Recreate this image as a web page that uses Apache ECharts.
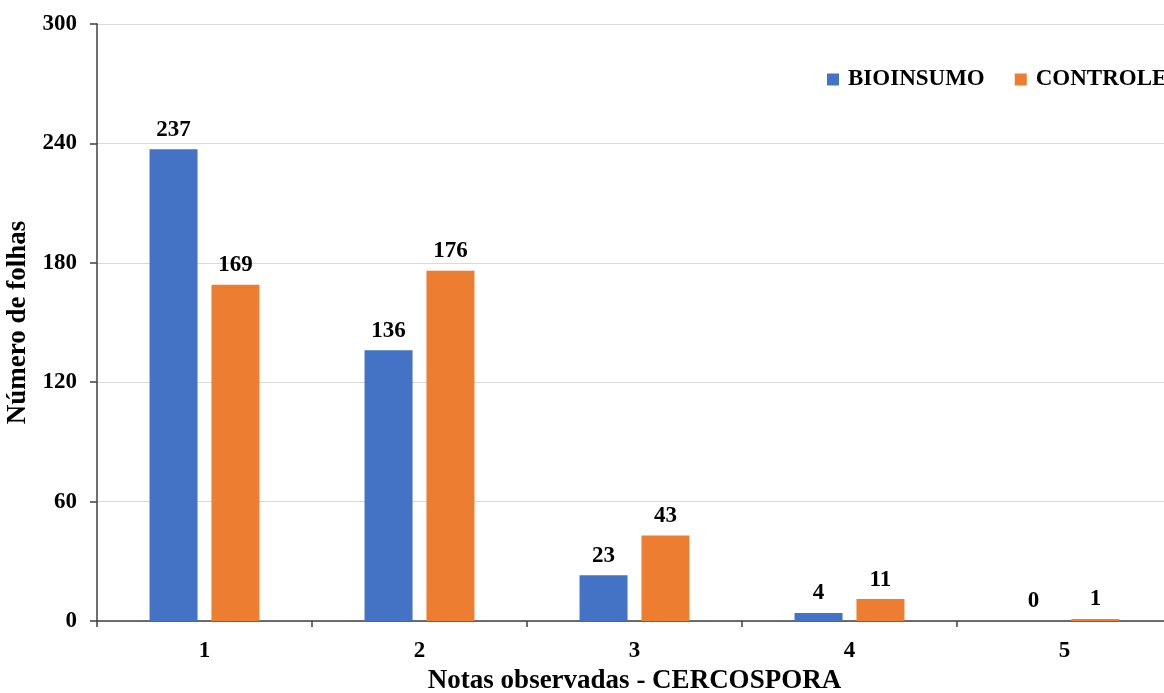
<!DOCTYPE html>
<html>
<head>
<meta charset="utf-8">
<script src="https://cdn.jsdelivr.net/npm/echarts@6/dist/echarts.min.js"></script>
<style>
  html, body { margin: 0; padding: 0; background: #fff; }
  #chart { width: 1164px; height: 693px; }
</style>
</head>
<body>
<div id="chart"></div>
<script>
// Leaf counts per observed Cercospora severity score
const categories = ['1', '2', '3', '4', '5'];
const bioinsumo = [237, 136, 23, 4, 0];
const controle = [169, 176, 43, 11, 1];
const seriesNames = ['BIOINSUMO', 'CONTROLE'];
const yTicks = { min: 0, max: 300, interval: 60 };

const font = '"Liberation Serif", "Times New Roman", serif';
const textBase = { fontFamily: font, fontWeight: 'bold', color: '#000' };

const chart = echarts.init(document.getElementById('chart'), null, { renderer: 'canvas' });

const labelStyle = {
  show: true,
  position: 'top',
  distance: 8,
  fontFamily: font,
  fontWeight: 'bold',
  fontSize: 23,
  color: '#000'
};

chart.setOption({
  animation: false,
  backgroundColor: '#fff',
  grid: {
    left: 97, top: 24, bottom: 72, right: -8,
    containLabel: false,
    outerBoundsMode: 'none'
  },
  legend: {
    data: seriesNames,
    left: 822,
    top: 63,
    width: 600,
    itemWidth: 12,
    itemHeight: 12,
    itemGap: 30,
    icon: 'rect',
    textStyle: Object.assign({}, textBase, { fontSize: 23, padding: [0, 0, 0, 4] })
  },
  xAxis: {
    type: 'category',
    data: categories,
    name: 'Notas observadas - CERCOSPORA',
    nameLocation: 'middle',
    nameGap: 47,
    nameTextStyle: Object.assign({}, textBase, { fontSize: 27 }),
    axisLine: { lineStyle: { color: '#404040', width: 1.5 } },
    axisTick: { show: true, length: 6, lineStyle: { color: '#404040', width: 1.5 } },
    axisLabel: Object.assign({}, textBase, { fontSize: 23, margin: 19 })
  },
  yAxis: {
    type: 'value',
    min: yTicks.min,
    max: yTicks.max,
    interval: yTicks.interval,
    name: 'Número de folhas',
    nameLocation: 'middle',
    nameGap: 54,
    nameTextStyle: Object.assign({}, textBase, { fontSize: 27 }),
    axisLine: { show: true, lineStyle: { color: '#404040', width: 1.5 } },
    axisTick: { show: true, length: 7, lineStyle: { color: '#404040', width: 1.5 } },
    axisLabel: Object.assign({}, textBase, { fontSize: 23, margin: 20 }),
    splitLine: { show: true, lineStyle: { color: '#d9d9d9', width: 1 } }
  },
  series: [
    {
      name: seriesNames[0],
      type: 'bar',
      data: bioinsumo,
      barWidth: 48,
      barGap: '29%',
      itemStyle: { color: '#4472C4' },
      label: labelStyle
    },
    {
      name: seriesNames[1],
      type: 'bar',
      data: controle,
      barWidth: 48,
      itemStyle: { color: '#ED7D31' },
      label: labelStyle
    }
  ]
});
</script>
</body>
</html>
